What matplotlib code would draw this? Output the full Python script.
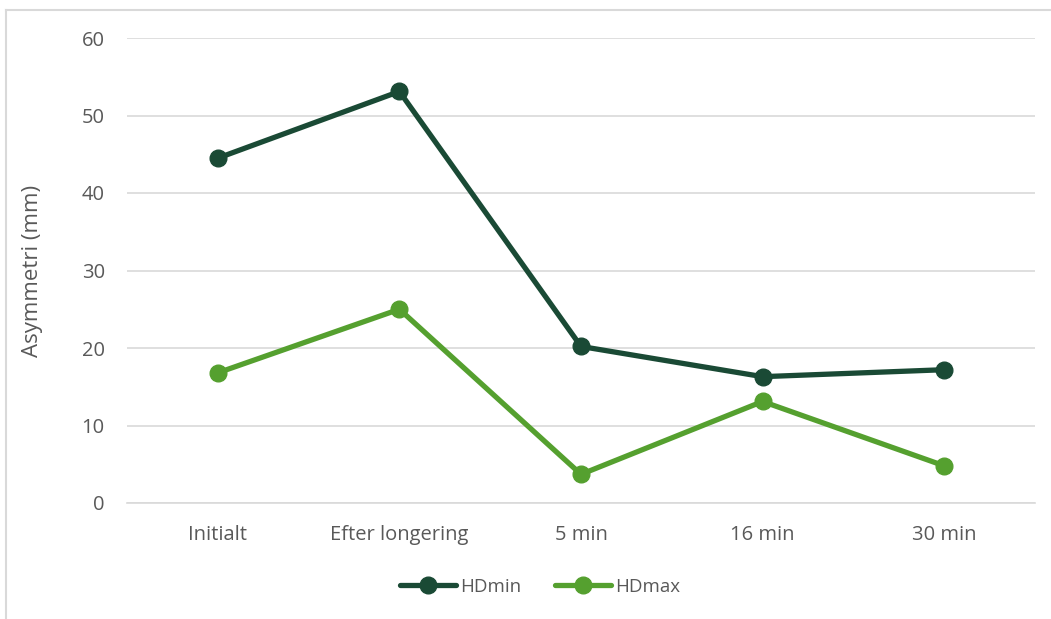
import numpy as np
import matplotlib
matplotlib.use('Agg')
from matplotlib import pyplot as plt
from matplotlib.lines import Line2D

categories = ['Initialt', 'Efter longering', '5 min', '16 min', '30 min']
hdmin = [44.5, 53.1, 20.2, 16.3, 17.2]
hdmax = [16.8, 25.0, 3.7, 13.1, 4.8]
yticks = [0, 10, 20, 30, 40, 50, 60]

plt.rcParams['font.family'] = ['Open Sans', 'DejaVu Sans']
txt = '#595959'
c_min = '#1a4a35'
c_max = '#55a02f'

fig = plt.figure(figsize=(10.51, 6.19), dpi=100)
ax = fig.add_axes([127/1051, 1-503/619, (1035-127)/1051, (503-38)/619])

x = np.arange(len(categories))
ax.plot(x, hdmin, color=c_min, lw=3.8, marker='o', ms=12, label='HDmin', solid_capstyle='round', zorder=3)
ax.plot(x, hdmax, color=c_max, lw=3.8, marker='o', ms=12, label='HDmax', solid_capstyle='round', zorder=3)

ax.set_xlim(-0.5, len(categories)-0.5)
ax.set_ylim(0, 60)
ax.set_yticks(yticks)
ax.set_xticks(x)
ax.set_xticklabels(categories)
ax.grid(axis='y', color='#d9d9d9', lw=1.2)
ax.set_axisbelow(True)
for s in ['top', 'right', 'left']:
    ax.spines[s].set_visible(False)
ax.spines['bottom'].set_color('#d9d9d9')
ax.spines['bottom'].set_linewidth(1.2)
ax.tick_params(length=0, labelsize=14.5, colors=txt, pad=16)
ax.tick_params(axis='y', pad=16)
ax.set_ylabel('Asymmetri (mm)', fontsize=16, color=txt)
ax.yaxis.set_label_coords(-84/908, 0.5)

leg = fig.legend(loc='center', bbox_to_anchor=(540/1051, 1-587/619), ncol=2, frameon=False,
                 fontsize=13.5, handlelength=3.0, columnspacing=1.8, handletextpad=0.2)
for t in leg.get_texts():
    t.set_color(txt)

# chart frame
fig.add_artist(Line2D([6/1051, 6/1051], [0, 1-10/619], color='#d9d9d9', lw=1.5))
fig.add_artist(Line2D([6/1051, 1], [1-10/619, 1-10/619], color='#d9d9d9', lw=1.5))

fig.savefig('out.png', dpi=100)
